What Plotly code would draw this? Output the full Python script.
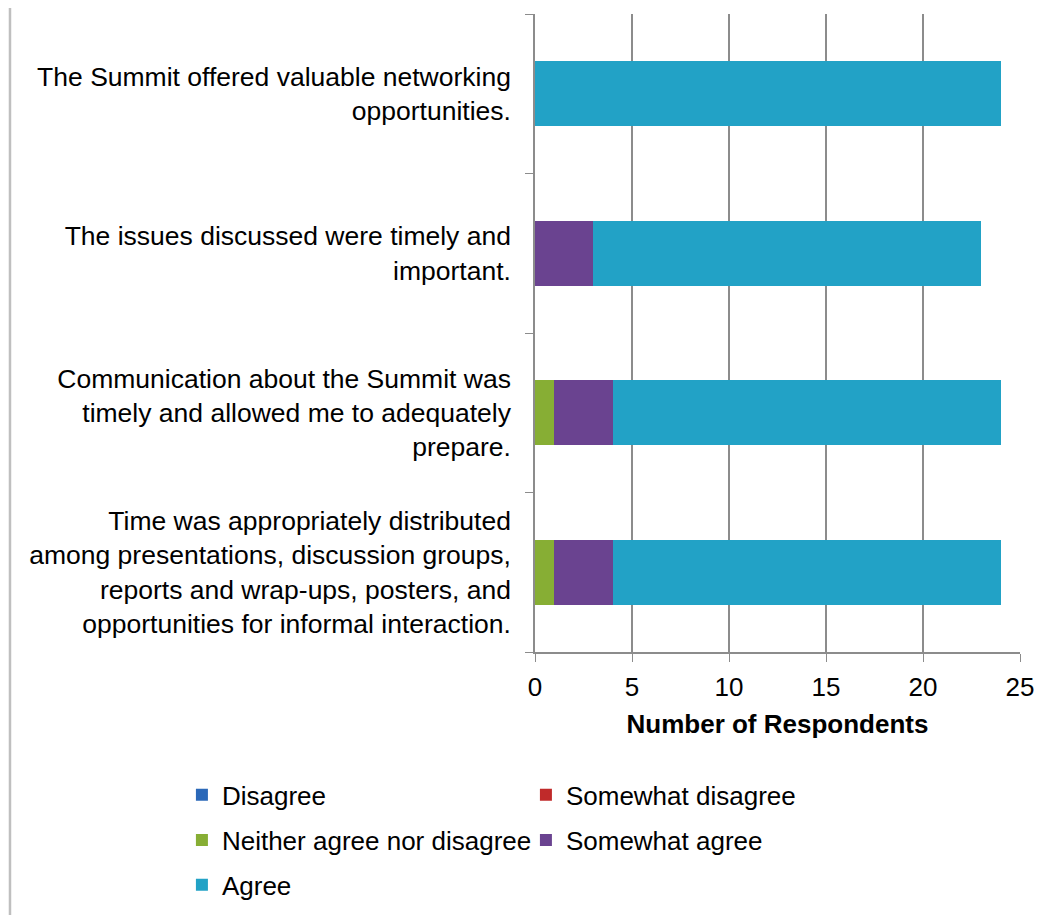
import plotly.graph_objects as go

# survey statements, bottom to top
statements = [
    "Time was appropriately distributed<br>among presentations, discussion groups,<br>reports and wrap-ups, posters, and<br>opportunities for informal interaction.",
    "Communication about the Summit was<br>timely and allowed me to adequately<br>prepare.",
    "The issues discussed were timely and<br>important.",
    "The Summit offered valuable networking<br>opportunities.",
]

responses = ["Disagree", "Somewhat disagree", "Neither agree nor disagree",
             "Somewhat agree", "Agree"]

disagree = [0, 0, 0, 0]
somewhat_disagree = [0, 0, 0, 0]
neither = [1, 1, 0, 0]
somewhat_agree = [3, 3, 3, 0]
agree = [20, 20, 20, 24]

series = [disagree, somewhat_disagree, neither, somewhat_agree, agree]
colors = ["#2B68B8", "#C02A2A", "#87AE34", "#6A4390", "#22A2C6"]
# legend rows (two entries per row, like the original)
legend_rows = ["legend", "legend", "legend2", "legend2", "legend3"]

FONT = "Liberation Sans, Arial, sans-serif"
GRID = "#8C8C8C"

fig = go.Figure()
for name, vals, col, lg in zip(responses, series, colors, legend_rows):
    fig.add_trace(go.Bar(
        y=statements, x=vals, name=name, orientation="h",
        marker=dict(color=col, line=dict(width=0)),
        legend=lg,
    ))


def legend_row(y):
    return dict(
        orientation="h", xref="paper", yref="paper",
        x=-0.728, y=y, xanchor="left", yanchor="middle",
        entrywidth=299, font=dict(size=26), traceorder="normal",
    )


fig.update_layout(
    barmode="stack",
    bargap=0.59,
    width=1063, height=915,
    margin=dict(l=527, r=51, t=6, b=271),
    plot_bgcolor="white", paper_bgcolor="white",
    font=dict(family=FONT, size=26.5, color="black"),
    legend=legend_row(-0.224),
    legend2=legend_row(-0.295),
    legend3=legend_row(-0.365),
    xaxis=dict(
        range=[0, 25], dtick=5,
        showgrid=True, gridcolor=GRID, gridwidth=1.5,
        showline=True, linecolor=GRID, linewidth=1.5,
        ticks="outside", ticklen=8, tickcolor=GRID,
        zeroline=False,
        tickfont=dict(size=26),
        ticklabelstandoff=3,
        title=dict(text="<b>Number of Respondents</b>", font=dict(size=26), standoff=14),
    ),
    yaxis=dict(
        showline=True, linecolor=GRID, linewidth=1.5,
        ticks="outside", ticklen=8, tickcolor=GRID,
        tickson="boundaries",
        showgrid=False,
        tickfont=dict(size=26.5),
        ticklabelstandoff=17,
    ),
    shapes=[dict(type="line", xref="paper", yref="paper",
                 x0=-1.0825, x1=-1.0825, y0=-0.44, y1=1.03,
                 line=dict(color="#BFBFBF", width=2.5))],
)

fig.write_html("out.html")
